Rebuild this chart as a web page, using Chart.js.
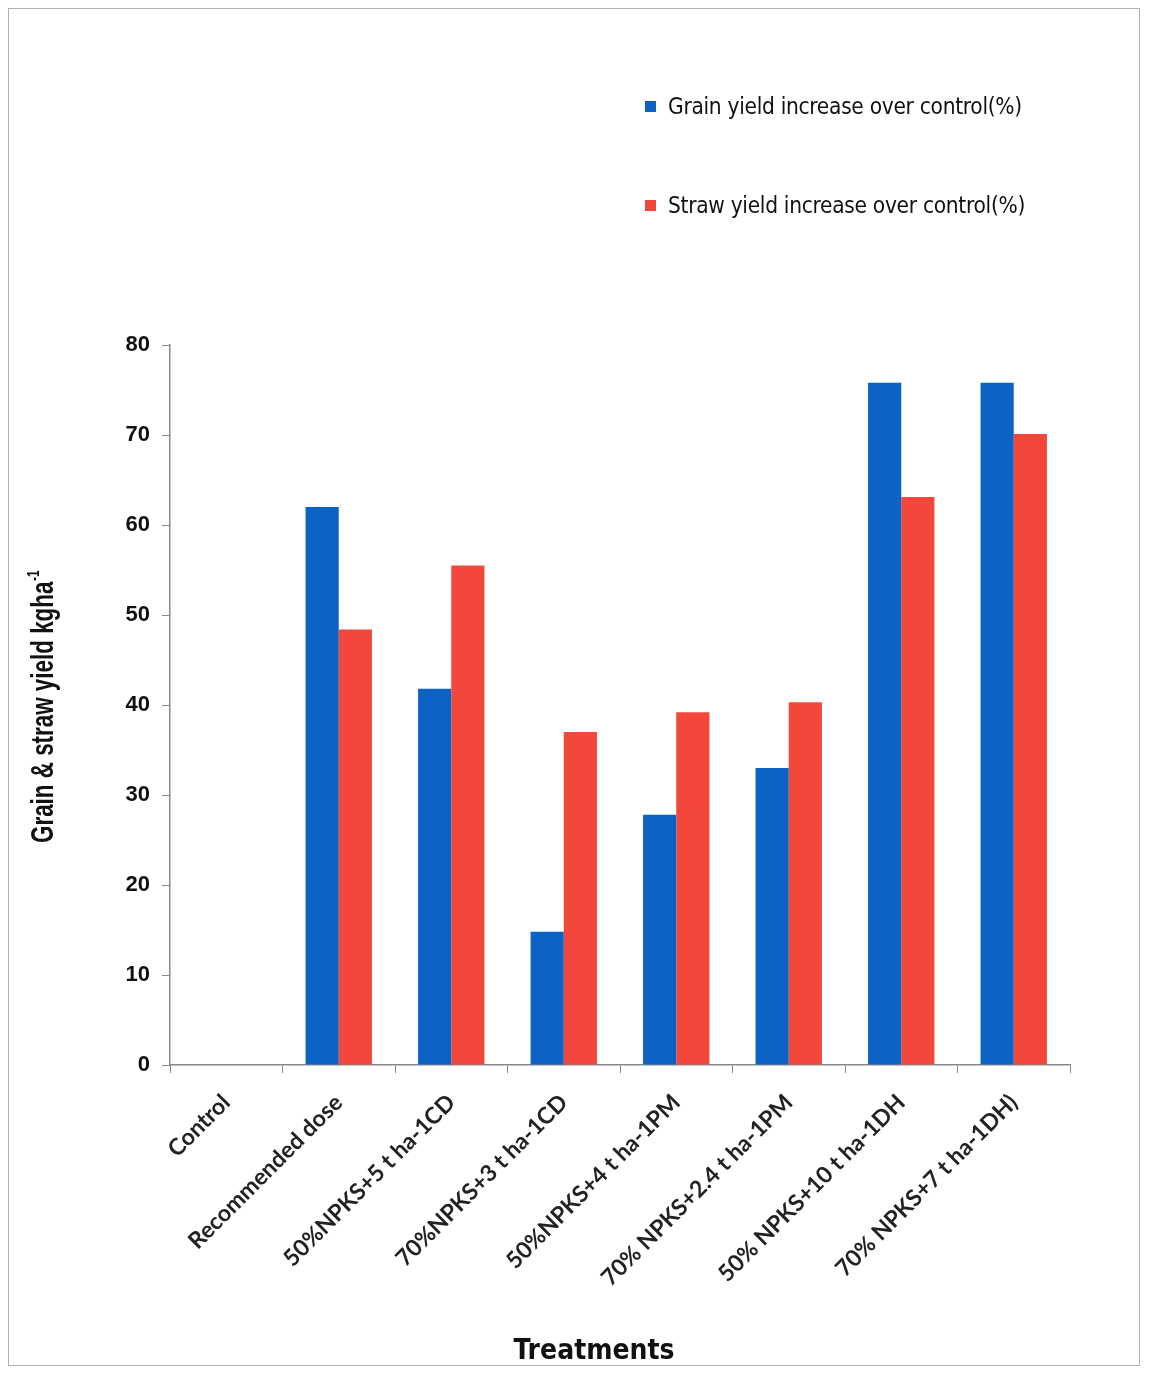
<!DOCTYPE html>
<html>
<head>
<meta charset="utf-8">
<script src="https://cdn.jsdelivr.net/npm/chart.js@4"></script>
<style>
  body { margin: 0; background: #fff; }
  #wrap { position: relative; width: 1150px; height: 1374px; }
  #frame { position: absolute; left: 8px; top: 8px; width: 1132px; height: 1358px; border: 1px solid #b0b0b0; box-sizing: border-box; pointer-events: none; }
  #legend { position: absolute; left: 645px; top: 92px; font-family: "DejaVu Sans Condensed", "Liberation Sans", Arial, sans-serif; font-size: 22.5px; color: #111; letter-spacing: -0.3px; }
  .item { display: flex; align-items: center; height: 28px; margin-bottom: 71px; }
  .box { width: 11px; height: 11px; margin-right: 12px; }
</style>
</head>
<body>
<div id="wrap">
  <canvas id="chart" width="1150" height="1374"></canvas>
  <div id="legend"></div>
  <div id="frame"></div>
</div>
<script>
var treatments = ["Control", "Recommended dose", "50%NPKS+5 t ha-1CD", "70%NPKS+3 t ha-1CD",
    "50%NPKS+4 t ha-1PM", "70% NPKS+2.4 t ha-1PM", "50% NPKS+10 t ha-1DH", "70% NPKS+7 t ha-1DH)"];
var grainIncrease = [0, 62, 41.8, 14.8, 27.8, 33, 75.8, 75.8];
var strawIncrease = [0, 48.4, 55.5, 37, 39.2, 40.3, 63.1, 70.1];
var seriesNames = ["Grain yield increase over control(%)", "Straw yield increase over control(%)"];
var seriesColors = ["#0d63c4", "#f2473a"];
var yTicks = [0, 10, 20, 30, 40, 50, 60, 70, 80];
var yTitle = "Grain & straw yield kgha";
var yTitleSup = "-1";
var xTitle = "Treatments";

// axis titles drawn by hand: the original uses a narrow bold face
var axisTitles = {
    id: "axisTitles",
    afterDraw: function (chart) {
        var ctx = chart.ctx;
        var area = chart.chartArea;
        ctx.save();
        ctx.fillStyle = "#111";
        // y title, rotated and squeezed
        ctx.translate(area.left - 117, (area.top + area.bottom) / 2 + 2);
        ctx.rotate(-Math.PI / 2);
        ctx.scale(0.7, 1);
        ctx.font = "bold 32px 'Liberation Sans', Arial, sans-serif";
        var w1 = ctx.measureText(yTitle).width;
        ctx.font = "bold 17px 'Liberation Sans', Arial, sans-serif";
        var w2 = ctx.measureText(yTitleSup).width;
        var x0 = -(w1 + w2) / 2;
        ctx.textBaseline = "alphabetic";
        ctx.font = "bold 32px 'Liberation Sans', Arial, sans-serif";
        ctx.fillText(yTitle, x0, 0);
        ctx.font = "bold 17px 'Liberation Sans', Arial, sans-serif";
        ctx.fillText(yTitleSup, x0 + w1 + 1, -14);
        ctx.restore();

        ctx.save();
        ctx.fillStyle = "#111";
        ctx.font = "bold 28px 'DejaVu Sans Condensed', 'Liberation Sans', Arial, sans-serif";
        ctx.textAlign = "center";
        ctx.textBaseline = "alphabetic";
        ctx.fillText(xTitle, (area.left + area.right) / 2 - 26, 1359);
        ctx.restore();
    }
};

var chart = new Chart("chart", {
    type: "bar",
    data: {
        labels: treatments,
        datasets: [{
            label: seriesNames[0],
            data: grainIncrease,
            backgroundColor: seriesColors[0],
            categoryPercentage: 0.59,
            barPercentage: 1.0
        }, {
            label: seriesNames[1],
            data: strawIncrease,
            backgroundColor: seriesColors[1],
            categoryPercentage: 0.59,
            barPercentage: 1.0
        }]
    },
    plugins: [axisTitles],
    options: {
        responsive: false,
        animation: false,
        layout: {padding: {left: 25, top: 345, right: 80, bottom: 4}},
        plugins: {
            legend: {display: false},
            tooltip: {enabled: false}
        },
        scales: {
            x: {
                grid: {drawOnChartArea: false, tickLength: 8, color: "#888"},
                border: {color: "#888", width: 1.5},
                ticks: {
                    color: "#222",
                    font: {family: "Lato, 'Open Sans', sans-serif", size: 23, weight: "bold"},
                    minRotation: 45,
                    maxRotation: 45,
                    padding: 16
                },
                afterFit: function (scale) { scale.height = 305; }
            },
            y: {
                min: 0,
                max: 80,
                afterBuildTicks: function (scale) {
                    scale.ticks = yTicks.map(function (v) { return {value: v}; });
                },
                grid: {drawOnChartArea: false, tickLength: 8, color: "#888"},
                border: {color: "#888", width: 1.5},
                ticks: {
                    color: "#111",
                    font: {family: "'Liberation Sans', Arial, sans-serif", size: 22, weight: "bold"},
                    padding: 12
                },
                afterFit: function (scale) { scale.width = 145; }
            }
        }
    }
});

var legend = document.getElementById("legend");
chart.data.datasets.forEach(function (ds) {
    var item = document.createElement("div");
    item.className = "item";
    var box = document.createElement("span");
    box.className = "box";
    box.style.background = ds.backgroundColor;
    var txt = document.createElement("span");
    txt.textContent = ds.label;
    item.appendChild(box);
    item.appendChild(txt);
    legend.appendChild(item);
});
</script>
</body>
</html>
